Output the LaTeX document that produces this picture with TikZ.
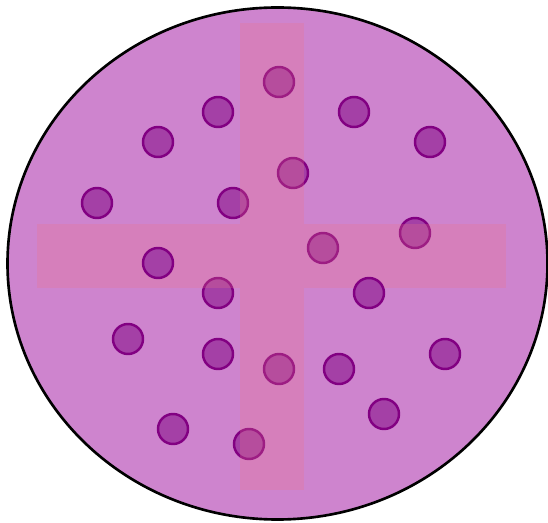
\documentclass[tikz,border=0pt]{standalone}
\usepackage{tikz}
\definecolor{dishfill}{RGB}{206,132,206}
\definecolor{crossfill}{RGB}{238,116,134}
\definecolor{dotfill}{RGB}{164,64,166}
\definecolor{dotline}{RGB}{130,0,130}
\newlength{\pxu}
\setlength{\pxu}{0.02cm}
\tikzset{
  colony/.style={circle, fill=dotfill, draw=dotline, line width=1.4pt, inner sep=0pt, minimum size=30\pxu},
  stripe/.style={fill=crossfill, opacity=0.25},
}

\begin{document}
\begin{tikzpicture}[x=0.02cm,y=-0.02cm]
\useasboundingbox (0,0) rectangle (548,523);
\filldraw[fill=dishfill, draw=black, line width=1.5pt] (277.5,263.5) ellipse [x radius=270, y radius=256];
% colonies under the cross
\foreach \cx/\cy [count=\i] in {279/82, 218/112, 354/112, 158/142, 430/142, 293/173, 97/203,
    233/203, 415/233, 323/248, 218/293, 128/339, 218/354,
    279/369, 339/369, 445/354, 384/414, 173/429, 249/444}
  \node[colony] (c\i) at (\cx,\cy) {};
\fill[stripe] (240,23) rectangle (304,490);
\fill[stripe] (37,224) rectangle (240,288);
\fill[stripe] (304,224) rectangle (506,288);
% colonies on top
\node[colony] (t1) at (158,263) {};
\node[colony] (t2) at (369,293) {};
\end{tikzpicture}
\end{document}
